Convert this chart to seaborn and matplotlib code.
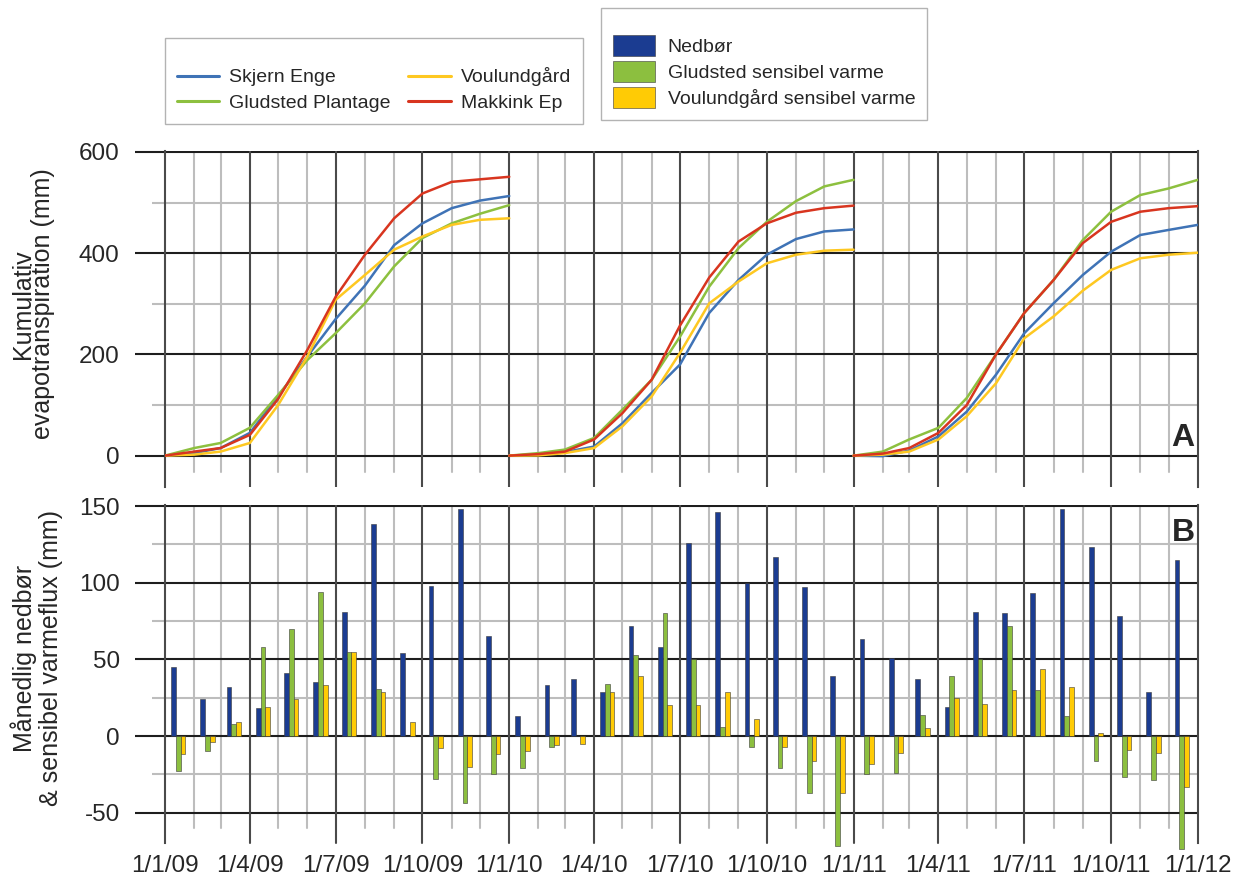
import numpy as np
import pandas as pd
import matplotlib
matplotlib.use("Agg")
import matplotlib.pyplot as plt
import matplotlib.dates as mdates
import seaborn as sns

sns.set_theme(style="white")
plt.rcParams["font.family"] = ["Liberation Sans", "DejaVu Sans"]
plt.rcParams["axes.unicode_minus"] = False

years = [2009, 2010, 2011]

# cumulative evapotranspiration (mm) read at the 1st of each month, Jan 1 -> Jan 1 next year
stations = ["Skjern Enge", "Gludsted Plantage", "Voulundgård", "Makkink Ep"]
line_colors = ["#3f73b6", "#8dc03f", "#fec821", "#d8351f"]

skjern = {
    2009: [0, 5, 15, 45, 117, 196, 270, 336, 416, 459, 489, 504, 513],
    2010: [0, 2, 7, 18, 64, 124, 180, 282, 347, 397, 428, 443, 447],
    2011: [0, -1, 10, 38, 87, 160, 242, 301, 357, 403, 436, 446, 456],
}
gludsted = {
    2009: [0, 15, 25, 55, 120, 189, 242, 301, 374, 430, 459, 478, 495],
    2010: [0, 5, 12, 35, 91, 150, 235, 334, 410, 462, 503, 532, 545],
    2011: [0, 8, 32, 55, 114, 200, 282, 347, 426, 482, 515, 528, 545],
}
voulund = {
    2009: [0, 2, 8, 25, 100, 196, 308, 357, 407, 433, 456, 466, 469],
    2010: [0, 0.5, 5, 15, 58, 117, 203, 301, 344, 380, 397, 405, 407],
    2011: [0, 2, 8, 32, 78, 143, 232, 275, 326, 367, 390, 397, 401],
}
makkink = {
    2009: [0, 8, 15, 41, 112, 209, 314, 397, 469, 518, 541, 546, 551],
    2010: [0, 3, 8, 32, 84, 150, 257, 352, 423, 459, 480, 489, 494],
    2011: [0, 4, 15, 45, 100, 200, 282, 347, 420, 462, 482, 489, 493],
}

# monthly values (mm), Jan 2009 .. Dec 2011
bar_series = ["Nedbør", "Gludsted sensibel varme", "Voulundgård sensibel varme"]
bar_colors = ["#1b3c91", "#8cbf3f", "#ffcb05"]
nedbor = [45, 24, 32, 18, 41, 35, 81, 138, 54, 98, 148, 65,
          13, 33, 37, 29, 72, 58, 126, 146, 100, 117, 97, 39,
          63, 51, 37, 19, 81, 80, 93, 148, 123, 78, 29, 115]
gludsted_h = [-23, -10, 8, 58, 70, 94, 55, 31, 0, -28, -44, -25,
              -21, -7, 0, 34, 53, 80, 50, 6, -7, -21, -37, -72,
              -25, -24, 14, 39, 50, 72, 30, 13, -16, -27, -29, -74]
voulund_h = [-12, -4, 9, 19, 24, 33, 55, 29, 9, -8, -20, -12,
             -10, -6, -5, 29, 39, 20, 20, 29, 11, -7, -16, -37,
             -18, -11, 5, 25, 21, 30, 44, 32, 2, -9, -11, -33]

# ---- long tables ----
rows = []
for name, series in zip(stations, [skjern, gludsted, voulund, makkink]):
    for y in years:
        dates = pd.date_range(f"{y}-01-01", f"{y + 1}-01-01", freq="MS")
        for d, v in zip(dates, series[y]):
            rows.append({"x": mdates.date2num(d), "et": v, "station": name, "year": y})
et_df = pd.DataFrame(rows)

mid = pd.date_range("2009-01-01", "2011-12-01", freq="MS") + pd.Timedelta(days=14)
bar_df = pd.DataFrame({
    "x": np.tile(mdates.date2num(mid), 3),
    "value": nedbor + gludsted_h + voulund_h,
    "series": np.repeat(bar_series, len(mid)),
})

# ---- figure ----
fig = plt.figure(figsize=(12.43, 8.85), dpi=100)
ax1 = fig.add_axes([0.1327, 0.4497, 0.831, 0.3797])
ax2 = fig.add_axes([0.1327, 0.0384, 0.831, 0.3915], sharex=ax1)

sns.lineplot(data=et_df, x="x", y="et", hue="station", units="year", estimator=None,
             hue_order=stations, palette=line_colors, lw=1.8, ax=ax1, zorder=3)
sns.barplot(data=bar_df, x="x", y="value", hue="series", hue_order=bar_series,
            palette=bar_colors, native_scale=True, width=0.54, saturation=1,
            errorbar=None, edgecolor="#3a3a3a", linewidth=0.4, ax=ax2, zorder=3)

x0 = mdates.date2num(pd.Timestamp("2009-01-01"))
x1 = mdates.date2num(pd.Timestamp("2012-01-01"))
ax1.set_xlim(x0, x1)

major_c, minor_c = "#1e1e1e", "#bdbdbd"
vmajor_c = "#4a4a4a"
lw_grid = 1.5


def style_axis(ax, ylim, majors, minors, ymin_major, ymin_minor):
    ax.set_ylim(*ylim)
    ax.set_yticks(majors)
    ax.set_yticks(minors, minor=True)
    ax.yaxis.grid(True, which="major", color=major_c, lw=lw_grid, zorder=1)
    ax.yaxis.grid(True, which="minor", color=minor_c, lw=lw_grid, zorder=0.5)
    ax.set_axisbelow(True)
    ax.tick_params(axis="y", which="major", direction="out", length=21.6, width=lw_grid,
                   color=major_c, pad=11, labelsize=17.5, left=True)
    ax.tick_params(axis="y", which="minor", direction="out", length=9.4, width=lw_grid,
                   color=minor_c, left=True)
    ax.set_xlabel("")
    ax.set_ylabel("")
    for s in ["top", "bottom"]:
        ax.spines[s].set_visible(False)
    for s in ["left", "right"]:
        ax.spines[s].set_color(vmajor_c)
        ax.spines[s].set_linewidth(lw_grid)
    lo = ylim[0]
    span = ylim[1] - ylim[0]
    ax.spines["left"].set_bounds(ymin_major, ylim[1])
    ax.spines["right"].set_bounds(ymin_major, ylim[1])
    for d in pd.date_range("2009-02-01", "2011-12-01", freq="MS"):
        xv = mdates.date2num(d)
        if d.month in (1, 4, 7, 10):
            ax.axvline(xv, ymin=(ymin_major - lo) / span, color=vmajor_c, lw=lw_grid, zorder=0.8)
        else:
            ax.axvline(xv, ymin=(ymin_minor - lo) / span, color=minor_c, lw=lw_grid, zorder=0.4)


style_axis(ax1, (-62, 602), [0, 200, 400, 600], [100, 300, 500], -62, -32)
style_axis(ax2, (-75, 151), [-50, 0, 50, 100, 150], [-25, 25, 75, 125], -70, -60)

ax1.tick_params(axis="x", labelbottom=False, length=0)
qdates = pd.date_range("2009-01-01", "2012-01-01", freq="QS")
ax2.set_xticks(mdates.date2num(qdates))
ax2.set_xticklabels([f"{d.day}/{d.month}/{d:%y}" for d in qdates])
ax2.tick_params(axis="x", length=0, pad=3, labelsize=17.5)
ax1.set_xlim(x0, x1)

ax1.text(0.997, 0.1, "A", transform=ax1.transAxes, ha="right", va="bottom",
         fontsize=23, fontweight="bold")
ax2.text(0.997, 0.962, "B", transform=ax2.transAxes, ha="right", va="top",
         fontsize=23, fontweight="bold")

fig.text(33 / 1243, 1 - 304 / 885, "Kumulativ\nevapotranspiration (mm)", rotation=90,
         ha="center", va="center", fontsize=18, linespacing=0.8, multialignment="center")
fig.text(37 / 1243, 1 - 658 / 885, "Månedlig nedbør\n& sensibel varmeflux (mm)", rotation=90,
         ha="center", va="center", fontsize=18, linespacing=1.1, multialignment="center")

# ---- legends ----
leg = ax1.get_legend()
lh, ll = leg.legend_handles, [t.get_text() for t in leg.get_texts()]
leg.remove()
for h in lh:
    h.set_linewidth(2.2)
fig.legend(lh, ll, ncol=2, loc="upper left", bbox_to_anchor=(165 / 1243, 1 - 38 / 885),
           frameon=True, fancybox=False, edgecolor="#a0a0a0", fontsize=14,
           handlelength=2.2, handletextpad=0.5, columnspacing=0.9, borderpad=0.6,
           labelspacing=0.4, borderaxespad=0, title=" ", title_fontsize=7)

leg = ax2.get_legend()
bh, bl = leg.legend_handles, [t.get_text() for t in leg.get_texts()]
leg.remove()
fig.legend(bh, bl, ncol=1, loc="upper left", bbox_to_anchor=(601 / 1243, 1 - 8 / 885),
           frameon=True, fancybox=False, edgecolor="#a0a0a0", fontsize=14,
           handlelength=2.16, handleheight=1.3, handletextpad=0.67, borderpad=0.6,
           labelspacing=0.26, borderaxespad=0, title=" ", title_fontsize=7)

fig.savefig("out.png", dpi=100)
